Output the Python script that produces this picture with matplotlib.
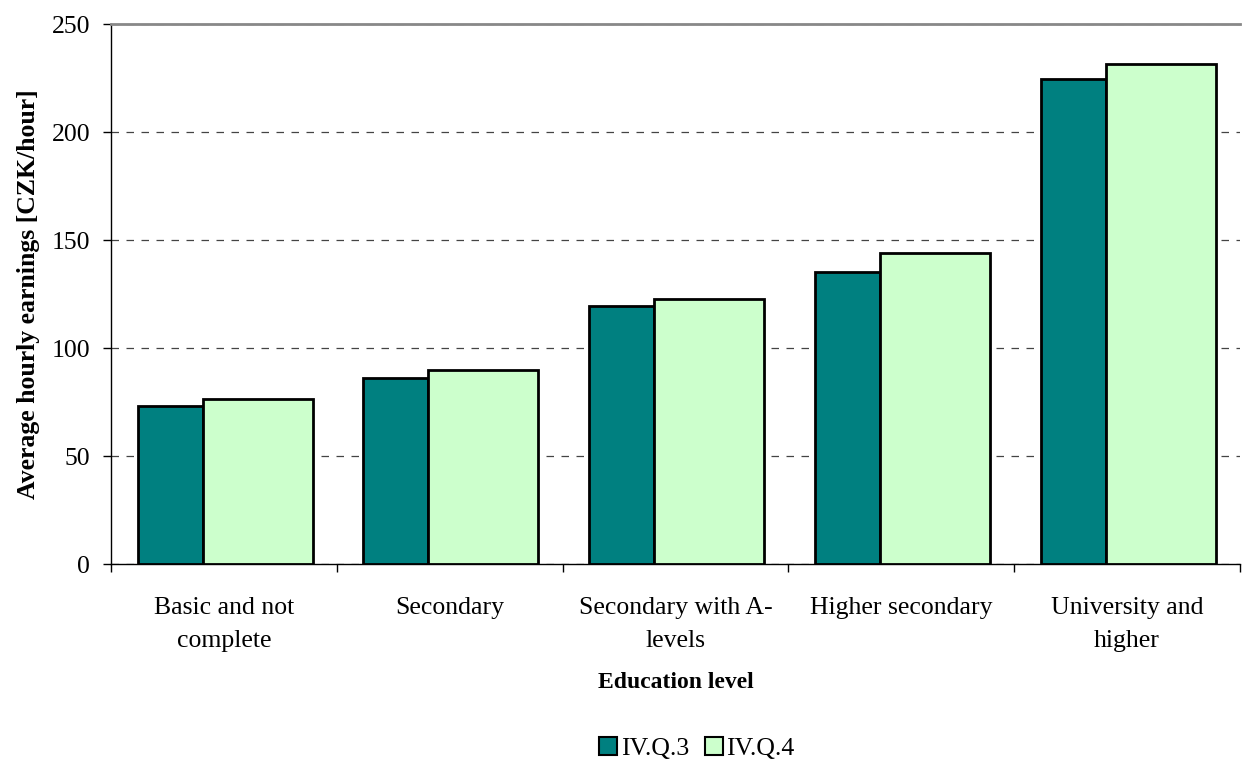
import numpy as np
import matplotlib.pyplot as plt
from matplotlib.patches import Patch

plt.rcParams['font.family'] = ['Liberation Serif', 'DejaVu Serif']

# data
categories = ['Basic and not\ncomplete', 'Secondary', 'Secondary with A-\nlevels',
              'Higher secondary', 'University and\nhigher']
q3 = [73, 86, 119.5, 135, 224.5]
q4 = [76.3, 89.7, 122.5, 144, 231.5]
series_names = ['IV.Q.3', 'IV.Q.4']
col_q3 = '#008080'
col_q4 = '#CCFFCC'

fig = plt.figure(figsize=(12.51, 7.62), dpi=100)
ax = fig.add_axes([0.0887, 0.2598, 0.9025, 0.7087])

x = np.arange(len(categories))
w3 = 0.288
w4 = 0.487
left = -0.382
ax.bar(x + left, q3, width=w3, align='edge', color=col_q3,
       edgecolor='black', linewidth=2, zorder=3)
ax.bar(x + left + w3, q4, width=w4, align='edge', color=col_q4,
       edgecolor='black', linewidth=2, zorder=3)

ax.set_xlim(-0.5, len(categories) - 0.5)
ax.set_ylim(0, 250)
ax.set_yticks(range(0, 251, 50))
ax.yaxis.grid(True, linestyle=(0, (6, 6)), color='#444444', linewidth=0.9, zorder=0)

# category labels at centres, tick marks at boundaries
ax.set_xticks(x)
ax.set_xticklabels(categories, fontsize=18.5, linespacing=1.65)
ax.tick_params(axis='x', which='major', length=0, pad=24)
ax.set_xticks(np.arange(-0.5, len(categories), 1), minor=True)
ax.tick_params(axis='x', which='minor', length=6, width=1, direction='out')
ax.tick_params(axis='y', length=6, width=1, direction='out', labelsize=18.5, pad=9)

ax.spines['right'].set_visible(False)
ax.spines['top'].set_color('#888888')
ax.spines['top'].set_linewidth(2)
ax.spines['left'].set_linewidth(1)
ax.spines['bottom'].set_linewidth(1)

ax.set_xlabel('Education level', fontsize=17, fontweight='bold', labelpad=14)
ax.set_ylabel('Average hourly earnings [CZK/hour]', fontsize=18.5, fontweight='bold', labelpad=8)

handles = [Patch(facecolor=col_q3, edgecolor='black', linewidth=1.5),
           Patch(facecolor=col_q4, edgecolor='black', linewidth=1.5)]
fig.legend(handles, series_names, loc='center', bbox_to_anchor=(0.557, 0.018),
           ncol=2, frameon=False, fontsize=18.5, handlelength=0.7, handleheight=0.7,
           handletextpad=0.15, columnspacing=0.6)

fig.savefig('out.png', dpi=100)
